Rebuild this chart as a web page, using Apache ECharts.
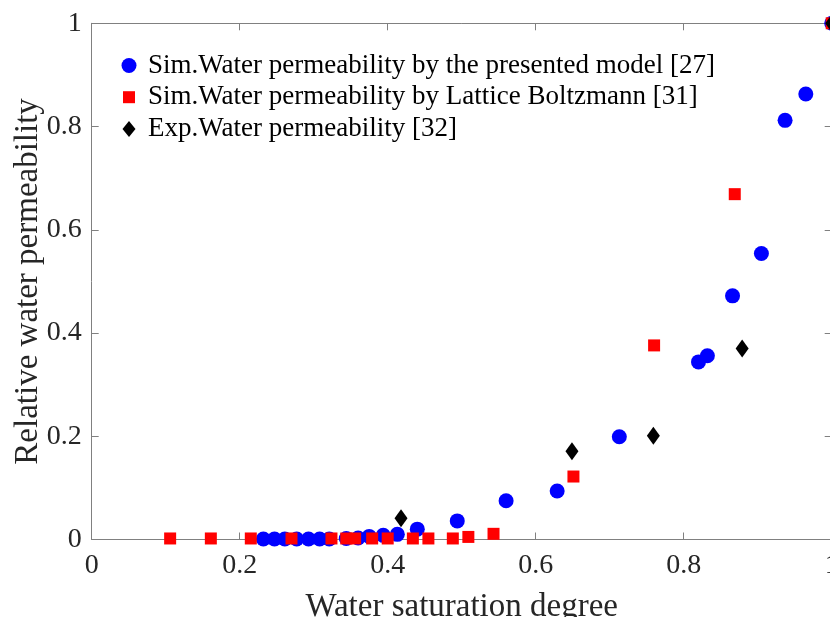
<!DOCTYPE html>
<html>
<head>
<meta charset="utf-8">
<script src="https://cdn.jsdelivr.net/npm/echarts@6/dist/echarts.min.js"></script>
<style>html,body{margin:0;padding:0;background:#fff}#c{width:830px;height:617px}</style>
</head>
<body>
<div id="c"></div>
<script>
// Series names
const seriesNames = [
  'Sim.Water permeability by the presented model [27]',
  'Sim.Water permeability by Lattice Boltzmann [31]',
  'Exp.Water permeability [32]'
];
// Blue: presented model
const modelX = [0.232, 0.247, 0.261, 0.277, 0.293, 0.308, 0.321, 0.344, 0.360, 0.375, 0.394, 0.413, 0.440, 0.494, 0.560, 0.629, 0.713, 0.820, 0.832, 0.866, 0.905, 0.937, 0.965, 1.0];
const modelY = [0.001, 0.001, 0.001, 0.001, 0.001, 0.001, 0.001, 0.002, 0.003, 0.006, 0.008, 0.010, 0.020, 0.036, 0.075, 0.094, 0.199, 0.344, 0.356, 0.472, 0.554, 0.812, 0.863, 1.0];
// Red: Lattice Boltzmann
const lbX = [0.106, 0.161, 0.215, 0.270, 0.324, 0.344, 0.356, 0.379, 0.400, 0.434, 0.455, 0.488, 0.509, 0.543, 0.651, 0.760, 0.869, 1.0];
const lbY = [0.002, 0.002, 0.002, 0.002, 0.002, 0.002, 0.002, 0.002, 0.002, 0.002, 0.002, 0.002, 0.005, 0.011, 0.122, 0.376, 0.669, 1.0];
// Black: experiment
const expX = [0.418, 0.649, 0.759, 0.879, 1.0];
const expY = [0.041, 0.171, 0.201, 0.370, 1.0];
// Tick settings
const axisMin = 0, axisMax = 1, axisStep = 0.2;

const zip = (xs, ys) => xs.map((x, i) => [x, ys[i]]);
const font = 'Liberation Serif, Times New Roman, serif';
const axisColor = '#808080';
const textColor = '#262626';

const baseAxis = {
  min: axisMin, max: axisMax, interval: axisStep,
  axisLine: { show: true, onZero: false, lineStyle: { color: axisColor, width: 1 } },
  axisTick: { show: true, inside: true, length: 7, lineStyle: { color: axisColor } },
  splitLine: { show: false }
};

// legend icons drawn in a 28x17 box (corner moveTo points fix the box)
const iconCircle = 'path://M0,0M28,17M6.5,8.5A7.5,7.5 0 1 1 21.5,8.5A7.5,7.5 0 1 1 6.5,8.5Z';
const iconSquare = 'path://M0,0M28,17M8,2.5h12v12h-12Z';
const iconDiamond = 'path://M0,0M28,17M14,0.5L20.5,8.5L14,16.5L7.5,8.5Z';

const chart = echarts.init(document.getElementById('c'), null, { renderer: 'canvas' });
chart.setOption({
  animation: false,
  backgroundColor: '#fff',
  grid: { left: 91.7, top: 23.3, width: 740, height: 516.2, containLabel: false, outerBoundsMode: 'none' },
  legend: {
    orient: 'vertical', left: 110, top: 47, itemGap: 4.7,
    itemWidth: 28, itemHeight: 17,
    textStyle: { fontFamily: font, fontSize: 27, lineHeight: 27, color: '#000' },
    data: [
      { name: seriesNames[0], icon: iconCircle },
      { name: seriesNames[1], icon: iconSquare },
      { name: seriesNames[2], icon: iconDiamond }
    ]
  },
  xAxis: [
    Object.assign({}, baseAxis, {
      type: 'value', position: 'bottom',
      name: 'Water saturation degree', nameLocation: 'middle', nameGap: 51, nameMoveOverlap: false,
      nameTextStyle: { fontFamily: font, fontSize: 33, color: textColor },
      axisLabel: { fontFamily: font, fontSize: 28, color: textColor, margin: 12 }
    }),
    Object.assign({}, baseAxis, { type: 'value', position: 'top', axisLabel: { show: false } })
  ],
  yAxis: [
    Object.assign({}, baseAxis, {
      type: 'value', position: 'left',
      name: 'Relative water permeability', nameLocation: 'middle', nameGap: 47, nameMoveOverlap: false,
      nameTextStyle: { fontFamily: font, fontSize: 33, color: textColor },
      axisLabel: { fontFamily: font, fontSize: 28, color: textColor, margin: 10 }
    }),
    Object.assign({}, baseAxis, { type: 'value', position: 'right', axisLabel: { show: false } })
  ],
  series: [
    { name: seriesNames[0], type: 'scatter', symbol: 'circle', symbolSize: 15,
      itemStyle: { color: '#0000ff', opacity: 1 }, data: zip(modelX, modelY), z: 2 },
    { name: seriesNames[1], type: 'scatter', symbol: 'rect', symbolSize: 12,
      itemStyle: { color: '#ff0000', opacity: 1 }, data: zip(lbX, lbY), z: 3 },
    { name: seriesNames[2], type: 'scatter', symbol: 'diamond', symbolSize: [13, 18],
      itemStyle: { color: '#000000', opacity: 1 }, data: zip(expX, expY), z: 4 }
  ]
});
</script>
</body>
</html>
